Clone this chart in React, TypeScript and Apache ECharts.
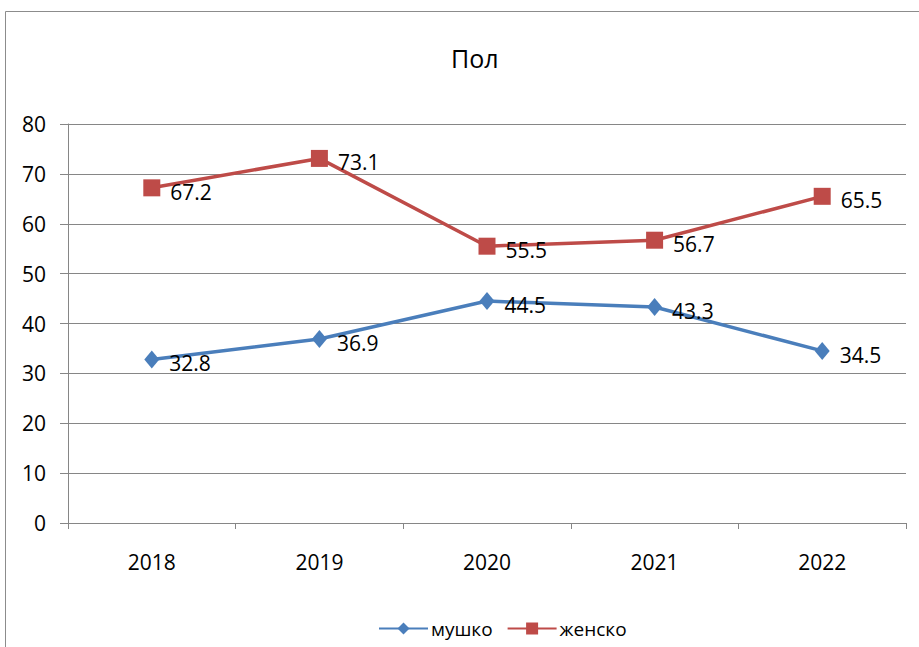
import React, { useEffect, useRef } from "react";
import * as echarts from "echarts";

const categories = ["2018", "2019", "2020", "2021", "2022"];
const maleValues = [32.8, 36.9, 44.5, 43.3, 34.5];
const femaleValues = [67.2, 73.1, 55.5, 56.7, 65.5];
const seriesNames = ["мушко", "женско"];
const titleText = "Пол";

export default function App() {
  const ref = useRef<HTMLDivElement>(null);
  useEffect(() => {
    document.body.style.margin = "0";
    const chart = echarts.init(ref.current!, null, { renderer: "svg" });
    const labelStyle = {
      show: true,
      position: "right" as const,
      distance: 10,
      offset: [0, 4],
      fontFamily: "Open Sans",
      fontSize: 21,
      color: "#000",
    };
    chart.setOption({
      animation: false,
      backgroundColor: "#fff",
      title: {
        text: titleText,
        left: 446,
        top: 40,
        textStyle: { fontFamily: "Open Sans", fontWeight: "normal", fontSize: 25, color: "#000" },
      },
      graphic: [
        {
          type: "rect",
          shape: { x: 5.5, y: 11.5, width: 1000, height: 1000 },
          style: { fill: "none", stroke: "#8c8c8c", lineWidth: 1 },
          silent: true,
        },
      ],
      legend: {
        left: 373,
        top: 614,
        itemWidth: 49,
        itemHeight: 15,
        itemGap: 14,
        textStyle: { fontFamily: "Open Sans", fontSize: 19, color: "#000", padding: [0, 0, 0, -2] },
        data: seriesNames,
      },
      grid: { left: 68, right: 13, top: 124, bottom: 124, containLabel: false },
      xAxis: {
        type: "category",
        data: categories,
        boundaryGap: true,
        axisLine: { lineStyle: { color: "#868686", width: 1 } },
        axisTick: { show: true, length: 6, lineStyle: { color: "#868686" } },
        axisLabel: { margin: 28, fontFamily: "Open Sans", fontSize: 21, color: "#000" },
      },
      yAxis: {
        type: "value",
        min: 0,
        max: 80,
        interval: 10,
        axisLine: { show: true, lineStyle: { color: "#868686", width: 1 } },
        axisTick: { show: true, length: 8, lineStyle: { color: "#868686" } },
        axisLabel: { margin: 22, fontFamily: "Open Sans", fontSize: 21, color: "#000" },
        splitLine: { show: true, lineStyle: { color: "#868686", width: 1 } },
      },
      series: [
        {
          name: seriesNames[0],
          type: "line",
          data: maleValues,
          symbol: "diamond",
          symbolSize: [15, 18],
          lineStyle: { color: "#4A7EBB", width: 3.5 },
          itemStyle: { color: "#4A7EBB" },
          label: labelStyle,
        },
        {
          name: seriesNames[1],
          type: "line",
          data: femaleValues,
          symbol: "rect",
          symbolSize: 17,
          lineStyle: { color: "#BE4B48", width: 3.5 },
          itemStyle: { color: "#BE4B48" },
          label: labelStyle,
        },
      ],
    });
    return () => chart.dispose();
  }, []);
  return <div ref={ref} style={{ width: 919, height: 647 }} />;
}
